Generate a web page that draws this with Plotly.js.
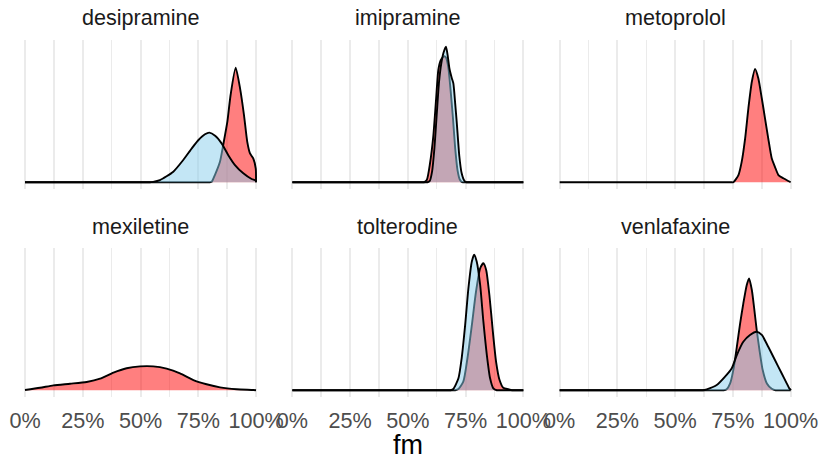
<!DOCTYPE html>
<html>
<head>
<meta charset="utf-8">
<script src="https://cdn.plot.ly/plotly-3.0.1.min.js"></script>
<style>html,body{margin:0;padding:0;background:#fff;}#chart{width:821px;height:461px;}</style>
</head>
<body>
<div id="chart"></div>
<script>
// ---- data (densities, relative heights; fm on x as fraction) ----
const drugs = ["desipramine", "imipramine", "metoprolol", "mexiletine", "tolterodine", "venlafaxine"];
const tickVals = [0, 0.25, 0.5, 0.75, 1];
const tickLabels = ["0%", "25%", "50%", "75%", "100%"];
const minorVals = [0.125, 0.375, 0.625, 0.875];

const desipramineRedX = [0, 0.79, 0.80, 0.808, 0.822, 0.844, 0.858, 0.876, 0.89, 0.912, 0.931, 0.948, 0.962, 0.974, 0.988, 0.999, 1.0];
const desipramineRedY = [0, 0, 0, 0.003, 0.053, 0.151, 0.275, 0.447, 0.644, 0.846, 0.693, 0.496, 0.30, 0.213, 0.176, 0.10, 0];
const desipramineBlueX = [0, 0.53, 0.54, 0.555, 0.584, 0.642, 0.685, 0.722, 0.75, 0.779, 0.798, 0.823, 0.851, 0.88, 0.909, 0.945, 0.981, 0.999, 1.0];
const desipramineBlueY = [0, 0, 0, 0.003, 0.016, 0.078, 0.164, 0.25, 0.31, 0.354, 0.366, 0.343, 0.287, 0.20, 0.127, 0.066, 0.024, 0.012, 0];

const imipramineRedX = [0, 0.56, 0.57, 0.582, 0.596, 0.61, 0.622, 0.632, 0.642, 0.65, 0.658, 0.665, 0.675, 0.685, 0.695, 0.705, 0.715, 0.725, 0.735, 0.745, 1];
const imipramineRedY = [0, 0, 0, 0.016, 0.14, 0.336, 0.607, 0.83, 0.90, 0.92, 0.93, 0.92, 0.85, 0.68, 0.48, 0.25, 0.09, 0.02, 0, 0, 0];
const imipramineBlueX = [0, 0.575, 0.585, 0.595, 0.605, 0.615, 0.625, 0.635, 0.645, 0.655, 0.665, 0.672, 0.68, 0.69, 0.697, 0.705, 0.712, 0.723, 0.733, 0.745, 0.755, 0.765, 1];
const imipramineBlueY = [0, 0, 0, 0.01, 0.08, 0.25, 0.5, 0.74, 0.88, 0.96, 1.0, 0.94, 0.84, 0.77, 0.73, 0.58, 0.435, 0.19, 0.066, 0.01, 0, 0, 0];

const metoprololRedX = [0, 0.742, 0.752, 0.774, 0.788, 0.803, 0.817, 0.832, 0.846, 0.86, 0.875, 0.889, 0.903, 0.918, 0.932, 0.947, 0.968, 0.99, 1.0];
const metoprololRedY = [0, 0, 0, 0.053, 0.15, 0.324, 0.546, 0.742, 0.836, 0.767, 0.62, 0.472, 0.324, 0.177, 0.114, 0.053, 0.029, 0.009, 0];

const mexiletineRedX = [0, 0.065, 0.123, 0.195, 0.267, 0.325, 0.383, 0.44, 0.498, 0.555, 0.613, 0.671, 0.729, 0.786, 0.844, 0.916, 0.988, 1];
const mexiletineRedY = [0.002, 0.018, 0.036, 0.048, 0.061, 0.085, 0.13, 0.162, 0.176, 0.176, 0.159, 0.125, 0.075, 0.044, 0.021, 0.007, 0.002, 0];

const tolterodineRedX = [0, 0.695, 0.705, 0.719, 0.74, 0.758, 0.777, 0.795, 0.813, 0.827, 0.839, 0.853, 0.868, 0.882, 0.897, 0.913, 0.935, 0.95, 0.96, 1];
const tolterodineRedY = [0, 0, 0, 0.009, 0.063, 0.236, 0.48, 0.727, 0.90, 0.937, 0.888, 0.703, 0.432, 0.21, 0.075, 0.018, 0.007, 0, 0, 0];
const tolterodineBlueX = [0, 0.675, 0.685, 0.697, 0.719, 0.733, 0.748, 0.762, 0.777, 0.787, 0.798, 0.813, 0.827, 0.842, 0.856, 0.87, 0.885, 0.895, 1];
const tolterodineBlueY = [0, 0, 0, 0.009, 0.088, 0.236, 0.48, 0.75, 0.95, 1.0, 0.95, 0.777, 0.506, 0.26, 0.088, 0.014, 0, 0, 0];

const venlafaxineRedX = [0, 0.70, 0.71, 0.723, 0.738, 0.752, 0.767, 0.781, 0.795, 0.81, 0.82, 0.832, 0.843, 0.853, 0.865, 0.879, 0.897, 0.918, 0.935, 0.945, 1];
const venlafaxineRedY = [0, 0, 0, 0.007, 0.05, 0.15, 0.32, 0.49, 0.64, 0.777, 0.826, 0.74, 0.592, 0.445, 0.297, 0.149, 0.05, 0.011, 0, 0, 0];
const venlafaxineBlueX = [0, 0.61, 0.62, 0.637, 0.68, 0.716, 0.745, 0.767, 0.795, 0.824, 0.853, 0.875, 0.903, 0.932, 0.961, 0.983, 0.994, 0.999, 1.0];
const venlafaxineBlueY = [0, 0, 0, 0.007, 0.038, 0.10, 0.162, 0.26, 0.358, 0.408, 0.432, 0.408, 0.321, 0.223, 0.125, 0.051, 0.014, 0.005, 0];

const redSeries = [
  [desipramineRedX, desipramineRedY], [imipramineRedX, imipramineRedY], [metoprololRedX, metoprololRedY],
  [mexiletineRedX, mexiletineRedY], [tolterodineRedX, tolterodineRedY], [venlafaxineRedX, venlafaxineRedY]
];
const blueSeries = [
  [desipramineBlueX, desipramineBlueY], [imipramineBlueX, imipramineBlueY], null,
  null, [tolterodineBlueX, tolterodineBlueY], [venlafaxineBlueX, venlafaxineBlueY]
];

// ---- layout geometry ----
const W = 821, H = 461;
const colPx = [[13.45, 267.55], [280.8, 534.9], [548.1, 802.2]];
const rowPx = [[40, 189], [248, 397]];
const titleYpx = [18, 226.7];
const FONT = '"Liberation Sans", Arial, Helvetica, sans-serif';

const traces = [];
const layout = {
  width: W, height: H,
  margin: {l: 0, r: 0, t: 0, b: 0, pad: 0},
  paper_bgcolor: '#ffffff', plot_bgcolor: 'rgba(0,0,0,0)',
  showlegend: false,
  font: {family: FONT, color: '#4D4D4D'},
  annotations: []
};

drugs.forEach((d, i) => {
  const r = Math.floor(i / 3), c = i % 3;
  const n = i + 1;
  const xa = 'x' + (n === 1 ? '' : n), ya = 'y' + (n === 1 ? '' : n);
  const xk = 'xaxis' + (n === 1 ? '' : n), yk = 'yaxis' + (n === 1 ? '' : n);
  layout[xk] = {
    domain: [colPx[c][0] / W, colPx[c][1] / W],
    range: [-0.05, 1.05],
    tickmode: 'array', tickvals: tickVals, ticktext: tickLabels,
    showticklabels: r === 1, tickangle: 0,
    tickfont: {size: 21.6, color: '#4D4D4D', family: FONT},
    ticks: 'outside', ticklen: 4, tickcolor: 'rgba(0,0,0,0)',
    showgrid: true, gridcolor: '#EBEBEB', gridwidth: 2,
    minor: {tickmode: 'array', tickvals: minorVals, showgrid: true, gridcolor: '#EBEBEB', gridwidth: 1.5, ticks: ''},
    zeroline: false, showline: false, fixedrange: true,
    anchor: ya
  };
  layout[yk] = {
    domain: [1 - rowPx[r][1] / H, 1 - rowPx[r][0] / H],
    range: [-0.05, 1.05],
    showticklabels: false, ticks: '', showgrid: false, zeroline: false, showline: false, fixedrange: true,
    anchor: xa
  };
  const red = redSeries[i];
  traces.push({
    type: 'scatter', mode: 'lines', x: red[0], y: red[1], xaxis: xa, yaxis: ya,
    fill: 'tozeroy', fillcolor: 'rgba(255,0,0,0.5)',
    line: {color: '#000000', width: 1.9, shape: 'spline', smoothing: 0.6},
    name: d + ' (red)', hoverinfo: 'skip'
  });
  const blue = blueSeries[i];
  if (blue) {
    traces.push({
      type: 'scatter', mode: 'lines', x: blue[0], y: blue[1], xaxis: xa, yaxis: ya,
      fill: 'tozeroy', fillcolor: 'rgba(135,206,235,0.5)',
      line: {color: '#000000', width: 1.9, shape: 'spline', smoothing: 0.6},
      name: d + ' (blue)', hoverinfo: 'skip'
    });
  }
  layout.annotations.push({
    text: d, xref: 'paper', yref: 'paper',
    x: (colPx[c][0] + colPx[c][1]) / 2 / W, y: 1 - titleYpx[r] / H,
    xanchor: 'center', yanchor: 'middle', showarrow: false,
    font: {size: 21.6, color: '#1A1A1A', family: FONT}
  });
});

layout.annotations.push({
  text: 'fm', xref: 'paper', yref: 'paper',
  x: (colPx[0][0] + colPx[2][1]) / 2 / W, y: 1 - 445 / H,
  xanchor: 'center', yanchor: 'middle', showarrow: false,
  font: {size: 27, color: '#000000', family: FONT}
});

Plotly.newPlot('chart', traces, layout, {staticPlot: true, displayModeBar: false});
</script>
</body>
</html>
